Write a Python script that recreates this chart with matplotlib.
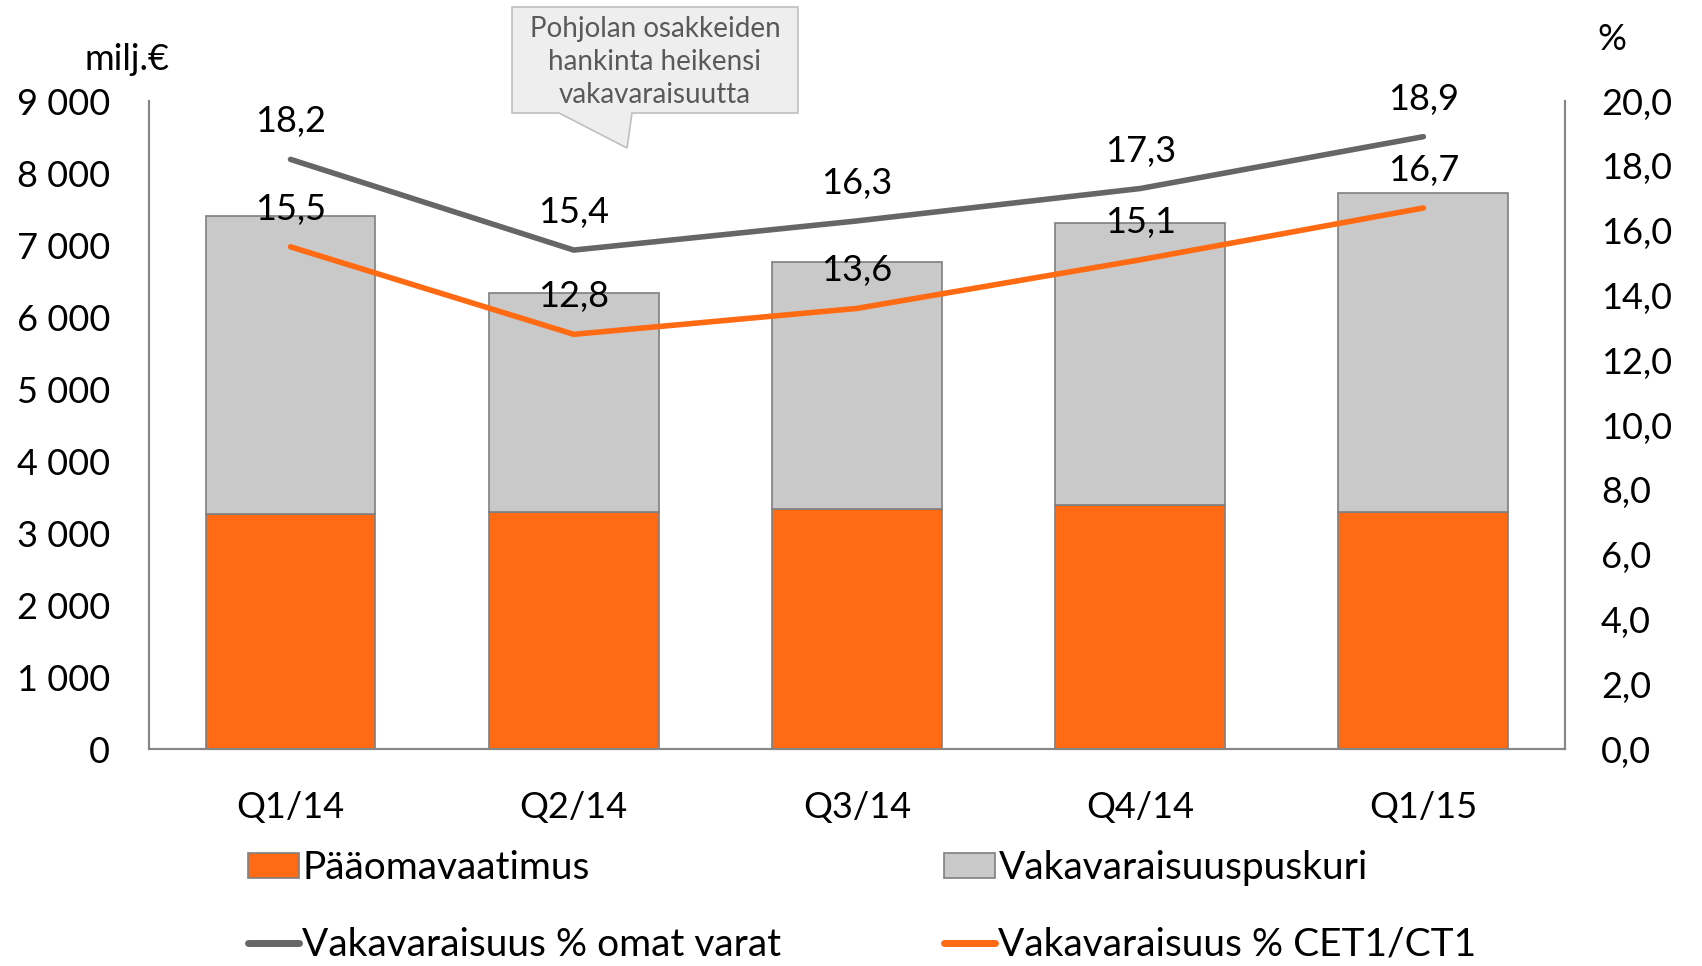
import matplotlib.pyplot as plt
from matplotlib.patches import Patch, Polygon
from matplotlib.lines import Line2D
import numpy as np

plt.rcParams['font.family'] = ['Lato', 'DejaVu Sans']

# data
kvartaalit = ['Q1/14', 'Q2/14', 'Q3/14', 'Q4/14', 'Q1/15']
paaomavaatimus = [3260, 3290, 3330, 3390, 3290]
puskuri = [4140, 3040, 3440, 3910, 4430]
omat_varat = [18.2, 15.4, 16.3, 17.3, 18.9]
cet1 = [15.5, 12.8, 13.6, 15.1, 16.7]

oranssi = '#FF6A13'
harmaa = '#C9C9C9'
tumma = '#666666'
fs = 26

fig = plt.figure(figsize=(17.02, 9.66), dpi=100)
ax = fig.add_axes([0.0875, 0.2246, 0.832, 0.6708])
ax2 = ax.twinx()

x = np.arange(len(kvartaalit))
ax.bar(x, paaomavaatimus, 0.6, color=oranssi, edgecolor='#7F7F7F', linewidth=1.2, zorder=2)
ax.bar(x, puskuri, 0.6, bottom=paaomavaatimus, color=harmaa, edgecolor='#7F7F7F',
       linewidth=1.2, zorder=2)

ax.set_ylim(0, 9000)
ax.set_xlim(-0.5, len(kvartaalit) - 0.5)
ax.set_yticks(np.arange(0, 9001, 1000))
ax.set_yticklabels([f'{v:,}'.replace(',', ' ') for v in range(0, 9001, 1000)])
ax.set_xticks(x)
ax.set_xticklabels(kvartaalit)

ax2.plot(x, omat_varat, color=tumma, lw=4, solid_capstyle='round', zorder=3)
ax2.plot(x, cet1, color=oranssi, lw=4, solid_capstyle='round', zorder=3)
ax2.set_ylim(0, 20)
ax2.set_yticks(np.arange(0, 20.1, 2))
ax2.set_yticklabels([f'{v:.1f}'.replace('.', ',') for v in np.arange(0, 20.1, 2)])

for sarja in (omat_varat, cet1):
    for xi, v in zip(x, sarja):
        ax2.annotate(f'{v:.1f}'.replace('.', ','), (xi, v), xytext=(0, 27),
                     textcoords='offset points', ha='center', va='center', fontsize=fs)

for a in (ax, ax2):
    for s in a.spines.values():
        s.set_color('#868686')
        s.set_linewidth(1.5)
    a.spines['top'].set_visible(False)
    a.tick_params(length=0, labelsize=fs)
ax.tick_params(axis='y', pad=28)
ax.tick_params(axis='x', pad=30)
ax2.tick_params(axis='y', pad=26)
ax.set_zorder(ax2.get_zorder() - 1)
ax2.patch.set_visible(False)
ax.patch.set_visible(False)

W, H = 1702, 966
fig.text(127 / W, 1 - 60 / H, 'milj.€', ha='center', va='center', fontsize=fs)
fig.text(1612 / W, 1 - 40 / H, '%', ha='center', va='center', fontsize=fs)

# puhekupla
pts = [(512, 7), (798, 7), (798, 113), (632, 113), (627, 148), (559, 113), (512, 113)]
poly = Polygon([(px / W, 1 - py / H) for px, py in pts], closed=True,
               transform=fig.transFigure, facecolor='#EEEEEE', edgecolor='#BFBFBF', lw=1.2)
fig.add_artist(poly)
fig.text(655 / W, 1 - 62 / H, 'Pohjolan osakkeiden\nhankinta heikensi\nvakavaraisuutta',
         ha='center', va='center', fontsize=20, color='#595959', linespacing=1.35)

vasen = [Patch(facecolor=oranssi, edgecolor='#7F7F7F', lw=1.2),
         Line2D([], [], color=tumma, lw=5, solid_capstyle='round')]
oikea = [Patch(facecolor=harmaa, edgecolor='#7F7F7F', lw=1.2),
         Line2D([], [], color=oranssi, lw=5, solid_capstyle='round')]
lfs = 28
fig.legend(vasen, ['Pääomavaatimus', 'Vakavaraisuus % omat varat'],
           loc='upper left', bbox_to_anchor=(248 / W, 1 - 850 / H),
           frameon=False, fontsize=lfs, handlelength=1.3, handleheight=0.6, handletextpad=0.1,
           labelspacing=1.05, borderaxespad=0, borderpad=0)
fig.legend(oikea, ['Vakavaraisuuspuskuri', 'Vakavaraisuus % CET1/CT1'],
           loc='upper left', bbox_to_anchor=(944 / W, 1 - 850 / H),
           frameon=False, fontsize=lfs, handlelength=1.3, handleheight=0.6, handletextpad=0.1,
           labelspacing=1.05, borderaxespad=0, borderpad=0)

plt.savefig('out.png', dpi=100)
